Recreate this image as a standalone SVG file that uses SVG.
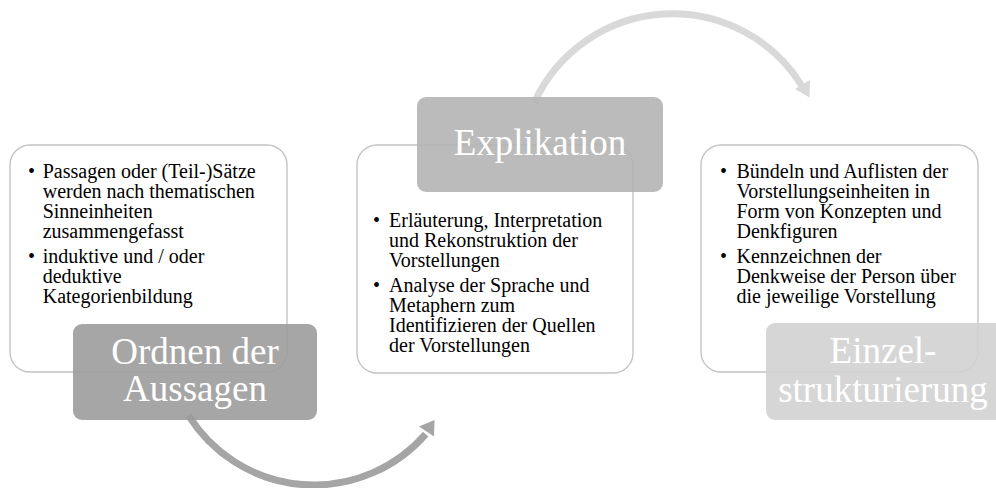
<svg xmlns="http://www.w3.org/2000/svg" width="996" height="488" viewBox="0 0 996 488">
  <style>
    .card { fill: #ffffff; stroke: #c4c4c4; stroke-width: 1.4; }
    .label { fill-opacity: 0.9; }
    .label-text { font-family: "Liberation Serif", "Times New Roman", serif; font-size: 37px; fill: #ffffff; text-anchor: middle; }
    .body { font-family: "Liberation Serif", "Times New Roman", serif; font-size: 20px; fill: #000000; }
    .arc { fill: none; stroke-width: 7; }
  </style>

  <!-- curved process arrows -->
  <g id="connectors">
    <path class="arc" stroke="#a5a5a5" d="M 188.5 415.4 A 148 148 0 0 0 425.7 434.1"/>
    <polygon fill="#a5a5a5" points="419,426.5 434.5,420 434,436.5"/>
    <path class="arc" stroke="#d9d9d9" d="M 534.2 102.8 A 152 152 0 0 1 802 86"/>
    <polygon fill="#d9d9d9" points="795,89 810,80 809.5,97.5"/>
  </g>

  <!-- step 1 -->
  <g id="step-ordnen">
    <rect class="card" x="10" y="145" width="277" height="227" rx="20" ry="20"/>
    <g class="body">
      <text x="28" y="177.7">•</text>
      <text x="42.7" y="177.7">Passagen oder (Teil-)Sätze</text>
      <text x="42.7" y="197.7">werden nach thematischen</text>
      <text x="42.7" y="217.7">Sinneinheiten</text>
      <text x="42.7" y="237.7">zusammengefasst</text>
      <text x="28" y="263.3">•</text>
      <text x="42.7" y="263.3">induktive und / oder</text>
      <text x="42.7" y="283.3">deduktive</text>
      <text x="42.7" y="303.3">Kategorienbildung</text>
    </g>
    <rect class="label" fill="#9c9c9c" x="73" y="324" width="244" height="96" rx="9" ry="9"/>
    <text class="label-text" x="195" y="364">Ordnen der</text>
    <text class="label-text" x="195" y="401">Aussagen</text>
  </g>

  <!-- step 2 -->
  <g id="step-explikation">
    <rect class="card" x="357" y="145" width="276" height="228" rx="20" ry="20"/>
    <g class="body">
      <text x="373" y="227.3">•</text>
      <text x="389" y="227.3">Erläuterung, Interpretation</text>
      <text x="389" y="247.3">und Rekonstruktion der</text>
      <text x="389" y="267.3">Vorstellungen</text>
      <text x="373" y="292.3">•</text>
      <text x="389" y="292.3">Analyse der Sprache und</text>
      <text x="389" y="312.3">Metaphern zum</text>
      <text x="389" y="332.3">Identifizieren der Quellen</text>
      <text x="389" y="352.3">der Vorstellungen</text>
    </g>
    <rect class="label" fill="#b4b4b4" x="417" y="97" width="246" height="95" rx="9" ry="9"/>
    <text class="label-text" x="540" y="155">Explikation</text>
  </g>

  <!-- step 3 -->
  <g id="step-einzelstrukturierung">
    <rect class="card" x="701" y="145" width="277" height="227" rx="20" ry="20"/>
    <g class="body">
      <text x="720" y="177.7">•</text>
      <text x="736.5" y="177.7">Bündeln und Auflisten der</text>
      <text x="736.5" y="197.7">Vorstellungseinheiten in</text>
      <text x="736.5" y="217.7">Form von Konzepten und</text>
      <text x="736.5" y="237.7">Denkfiguren</text>
      <text x="720" y="263.3">•</text>
      <text x="736.5" y="263.3">Kennzeichnen der</text>
      <text x="736.5" y="283.3">Denkweise der Person über</text>
      <text x="736.5" y="303.3">die jeweilige Vorstellung</text>
    </g>
    <rect class="label" fill="#d2d2d2" x="766" y="323" width="245" height="97" rx="9" ry="9"/>
    <text class="label-text" x="883" y="363">Einzel-</text>
    <text class="label-text" x="883" y="402">strukturierung</text>
  </g>
</svg>
